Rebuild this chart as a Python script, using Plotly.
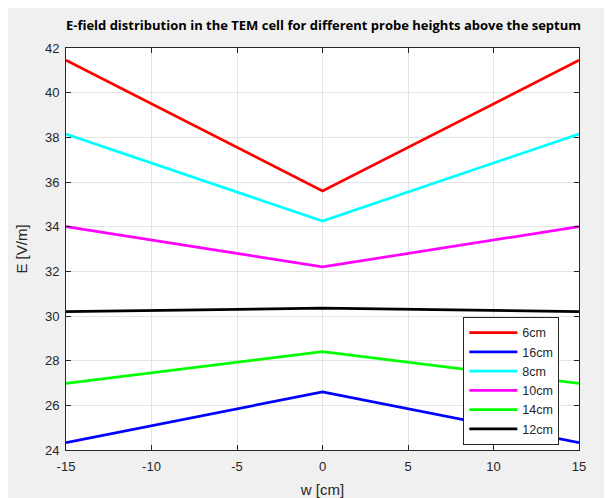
import plotly.graph_objects as go

w = [-15, 0, 15]
names = ["6cm", "16cm", "8cm", "10cm", "14cm", "12cm"]
values = {
    "6cm": [41.45, 35.6, 41.45],
    "16cm": [24.33, 26.6, 24.33],
    "8cm": [38.15, 34.25, 38.15],
    "10cm": [34.0, 32.2, 34.0],
    "14cm": [26.98, 28.4, 26.98],
    "12cm": [30.2, 30.35, 30.2],
}
colors = {"6cm": "#ff0000", "16cm": "#0000ff", "8cm": "#00ffff",
          "10cm": "#ff00ff", "14cm": "#00ff00", "12cm": "#000000"}
x_ticks = [-15, -10, -5, 0, 5, 10, 15]
x_labels = ["-15", "-10", "-5", "0", "5", "10", "15"]
y_ticks = list(range(24, 43, 2))

fig = go.Figure()
for n in names:
    fig.add_trace(go.Scatter(x=w, y=values[n], mode="lines", name=n,
                             line=dict(color=colors[n], width=2.7)))

W, H = 604, 490
L, R, T, B = 58, 33, 40, 48

font_ax = dict(family="Liberation Sans, Arial", size=13, color="#262626")
axis_common = dict(showgrid=True, gridcolor="#e3e3e3", gridwidth=1, zeroline=False,
                   showline=True, linecolor="#262626", linewidth=1, mirror="ticks",
                   ticks="inside", ticklen=5, tickcolor="#262626", tickfont=font_ax,
                   automargin=False)
fig.update_xaxes(range=[-15, 15], tickvals=x_ticks, ticktext=x_labels, ticklabelstandoff=4,
                 title=dict(text="w [cm]", font=dict(family="Liberation Sans, Arial", size=15, color="#262626"), standoff=16),
                 **axis_common)
fig.update_yaxes(range=[24, 42], tickvals=y_ticks, ticklabelstandoff=3,
                 title=dict(text="E [V/m]", font=dict(family="Liberation Sans, Arial", size=15, color="#262626"), standoff=13),
                 **axis_common)

fig.update_layout(
    width=W, height=H,
    margin=dict(l=L, r=R, t=T, b=B, pad=0),
    paper_bgcolor="#f0f0f0", plot_bgcolor="white",
    title=dict(text="<b>E-field distribution in the TEM cell for different probe heights above the septum</b>",
               x=315.5 / W, xanchor="center", y=1 - 17 / H, yanchor="middle",
               font=dict(family="Open Sans, Liberation Sans", size=13, color="#000000")),
    legend=dict(x=0.7745, y=0.331, xanchor="left", yanchor="top",
                bgcolor="white", bordercolor="#262626", borderwidth=1,
                font=dict(family="Liberation Sans, Arial", size=12.5, color="#262626"),
                tracegroupgap=0, itemwidth=48),
    showlegend=True,
)

fig.write_html("out.html")
